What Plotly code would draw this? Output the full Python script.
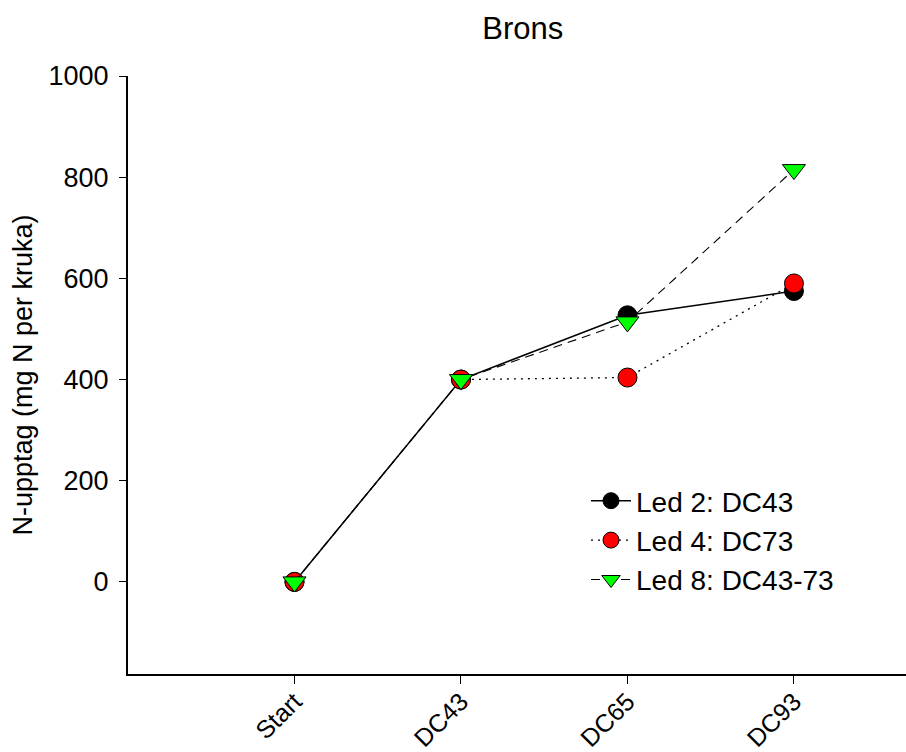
import plotly.graph_objects as go

# Sampling stages and N uptake per pot (mg N per kruka)
stages = ["Start", "DC43", "DC65", "DC93"]
led2_dc43 = [0, 400, 527, 575]
led4_dc73 = [0, 400, 404, 590]
led8_dc43_73 = [0, 400, 514, 815]

y_ticks = [0, 200, 400, 600, 800, 1000]

FONT = "Liberation Sans, Arial, sans-serif"
xpos = list(range(len(stages)))

fig = go.Figure()

fig.add_trace(go.Scatter(
    x=xpos, y=led2_dc43, name="Led 2: DC43", mode="lines+markers",
    line=dict(color="black", width=1.5, dash="solid"),
    marker=dict(symbol="circle", size=19, color="black",
                line=dict(color="black", width=1)),
))
fig.add_trace(go.Scatter(
    x=xpos, y=led4_dc73, name="Led 4: DC73", mode="lines+markers",
    line=dict(color="black", width=1.3, dash="2px,5px"),
    marker=dict(symbol="circle", size=19, color="#ff0000",
                line=dict(color="black", width=1)),
))
fig.add_trace(go.Scatter(
    x=xpos, y=led8_dc43_73, name="Led 8: DC43-73", mode="lines+markers",
    line=dict(color="black", width=1.1, dash="9px,6px"),
    marker=dict(symbol="triangle-down", size=20, color="#00ff00",
                line=dict(color="black", width=1)),
))

fig.update_layout(
    width=906, height=752,
    margin=dict(l=128, r=0, t=76, b=78),
    paper_bgcolor="white", plot_bgcolor="white",
    font=dict(family=FONT, size=27, color="black"),
    title=dict(text="Brons", font=dict(size=31, color="black"),
               x=0.577, xref="container", xanchor="center",
               y=1 - 28 / 752, yref="container", yanchor="middle"),
    showlegend=True,
    legend=dict(
        x=(586 - 128) / 778, xref="paper", xanchor="left",
        y=(674 - 476) / 598, yref="paper", yanchor="top",
        bgcolor="rgba(0,0,0,0)", borderwidth=0,
        font=dict(size=28, color="black"),
        itemwidth=40,
    ),
)

fig.update_xaxes(
    range=[-1, 3.673], automargin=False,
    tickmode="array", tickvals=xpos, ticktext=stages,
    tickangle=-45, tickfont=dict(size=25),
    ticks="outside", ticklen=8, tickwidth=1, tickcolor="black",
    ticklabelstandoff=-7,
    showline=True, linecolor="black", linewidth=2,
    showgrid=False, zeroline=False,
)
fig.update_yaxes(
    range=[-182, 1000], automargin=False,
    tickmode="array", tickvals=y_ticks,
    tickfont=dict(size=27),
    ticks="outside", ticklen=7, tickwidth=1, tickcolor="black",
    ticklabelstandoff=5,
    showline=True, linecolor="black", linewidth=2,
    showgrid=False, zeroline=False,
    title=dict(text="N-upptag (mg N per kruka)", font=dict(size=27),
               standoff=8),
)

fig.write_html("out.html")
